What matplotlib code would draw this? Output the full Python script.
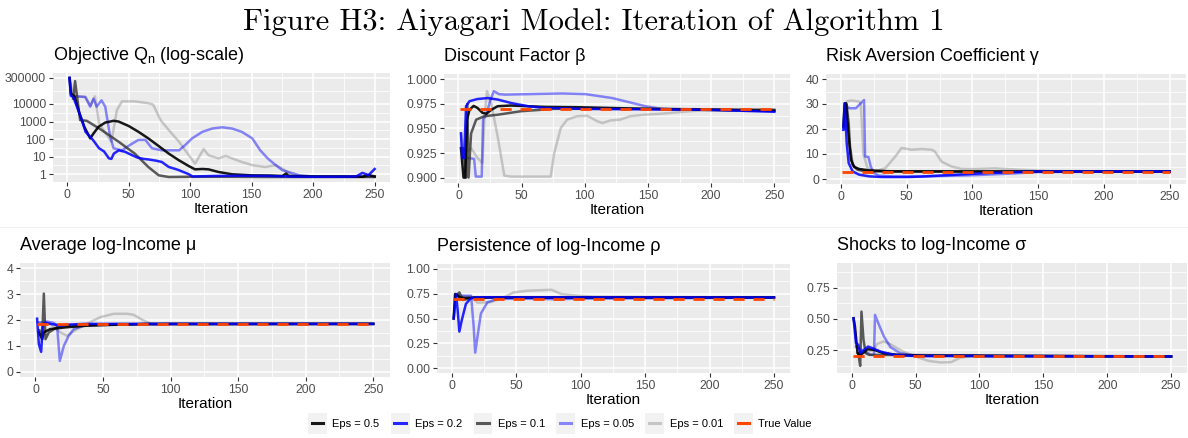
import matplotlib
matplotlib.use('Agg')
import matplotlib.pyplot as plt
from matplotlib.legend_handler import HandlerLine2D
from matplotlib.patches import Rectangle
from matplotlib.lines import Line2D
from matplotlib.ticker import FixedLocator, NullFormatter
import numpy as np

plt.rcParams['font.family'] = ['Liberation Sans', 'DejaVu Sans']

# ---- data (iteration, value) ----
eps_labels = ['Eps = 0.5', 'Eps = 0.2', 'Eps = 0.1', 'Eps = 0.05', 'Eps = 0.01']

# Objective Q_n
q05_x = [2, 3, 6, 10, 14, 18.8, 21.5, 25.5, 31, 37.8, 41.8, 50, 58, 66, 74.5, 82.6, 90.8, 99, 104, 110, 115, 123, 134, 150, 165, 175, 178, 180, 200, 225, 240, 245, 250]
q05_y = [3e5, 4e4, 2.7e4, 3e3, 500, 110, 210, 500, 870, 1100, 1000, 560, 260, 110, 40, 15, 6.3, 2.9, 1.9, 2.0, 1.9, 1.35, 1.0, 0.87, 0.85, 0.8, 1.1, 0.8, 0.75, 0.75, 0.72, 0.9, 0.75]
q02_x = [2, 3, 5, 8, 12, 15, 17.4, 21, 26, 30, 34, 36, 38, 42, 47, 53, 57, 62, 66, 72, 77, 82.6, 88, 91, 99, 102, 120, 140, 160, 180, 200, 220, 235, 240, 245, 250]
q02_y = [3e5, 3e4, 2.5e4, 7000, 1200, 260, 170, 90, 30, 20, 8, 7.5, 15, 23, 19, 12, 9, 7.5, 7, 6, 5, 2.6, 2.0, 1.7, 1.0, 0.75, 0.8, 0.82, 0.8, 0.75, 0.72, 0.72, 0.75, 1.2, 0.9, 2.0]
q01_x = [5, 6.5, 8, 10.6, 16, 28, 42, 55, 66, 74.5, 82.6, 100, 130, 160, 200, 250]
q01_y = [2e4, 2e5, 3e4, 1200, 1100, 330, 70, 15, 2.6, 0.87, 0.7, 0.72, 0.72, 0.7, 0.7, 0.7]
q005_x = [2, 3.8, 14.7, 18.8, 21.5, 24, 28, 31, 35, 37.8, 44.6, 51, 58, 63.6, 69, 77, 91, 96, 101.6, 110, 118, 126, 134, 142, 150.5, 157, 163, 169.6, 175, 189, 200, 230, 250]
q005_y = [3e5, 2.7e4, 2.5e4, 7000, 2e4, 7000, 1.6e4, 7000, 140, 30, 23, 46, 90, 90, 30, 23, 23, 46, 110, 260, 400, 470, 400, 260, 110, 23, 8, 3.3, 1.7, 0.87, 0.75, 0.72, 0.75]
q001_x = [2, 5, 15, 19, 22.6, 24, 26, 30, 36, 40.5, 44.6, 55, 66, 70, 76, 82.6, 91, 99, 104, 108, 111, 115, 123, 129, 134, 142, 150.5, 161, 169.6, 175, 183, 200, 250]
q001_y = [3e5, 3e4, 2.5e4, 8000, 2.7e4, 7000, 800, 300, 70, 4500, 1.4e4, 1.4e4, 1.1e4, 9000, 1200, 330, 70, 12, 4, 12, 27, 12, 8, 11, 8, 5, 3.3, 2.6, 3.3, 2.1, 0.87, 0.75, 0.72]

# Discount factor beta
b05_x = [2, 4, 5.3, 6.8, 8.7, 12, 15, 19, 22, 26, 31, 41.6, 68, 94, 150, 200, 250]
b05_y = [0.93, 0.90, 0.90, 0.959, 0.969, 0.973, 0.971, 0.966, 0.965, 0.969, 0.9727, 0.9734, 0.972, 0.9717, 0.970, 0.969, 0.968]
b02_x = [2, 3, 4.5, 6, 8.7, 15, 23, 31, 41.6, 55, 68, 100, 150, 200, 250]
b02_y = [0.945, 0.92, 0.92, 0.9727, 0.9778, 0.980, 0.981, 0.9795, 0.976, 0.9727, 0.971, 0.970, 0.9695, 0.969, 0.967]
b01_x = [4, 6, 7, 8, 10, 14, 20.5, 31, 49.5, 75.8, 150, 250]
b01_y = [0.93, 0.90, 0.975, 0.90, 0.945, 0.959, 0.9625, 0.964, 0.9676, 0.970, 0.970, 0.969]
b005_x = [3, 12.4, 13.7, 18.4, 19.5, 22, 25, 28, 32, 37, 56, 82, 100.6, 121.7, 148, 161, 200, 250]
b005_y = [0.921, 0.919, 0.901, 0.901, 0.960, 0.963, 0.978, 0.988, 0.985, 0.9845, 0.985, 0.9857, 0.985, 0.981, 0.9727, 0.970, 0.969, 0.968]
b001_x = [2, 5, 10, 15, 19, 20.5, 22.6, 26, 31, 36.3, 41.6, 73, 75.8, 81, 86, 94, 102, 110, 114, 120.5, 128, 136, 147, 160, 187, 250]
b001_y = [0.945, 0.925, 0.93, 0.92, 0.915, 0.959, 0.988, 0.975, 0.942, 0.902, 0.901, 0.901, 0.925, 0.9505, 0.959, 0.9625, 0.963, 0.9573, 0.9556, 0.9583, 0.959, 0.9625, 0.964, 0.965, 0.968, 0.969]

# Risk aversion gamma
g05_x = [1.75, 2.8, 3.8, 5.8, 7.5, 10, 13.8, 21.3, 38.8, 100, 250]
g05_y = [21, 30.3, 30.3, 17, 7.7, 4.8, 4.0, 3.45, 3.05, 3.0, 3.0]
g02_x = [1.75, 2.8, 4.3, 5.8, 8.8, 13.8, 21.3, 31, 51, 62, 80, 112, 150, 250]
g02_y = [19.7, 30.3, 14.4, 6.4, 3.05, 1.73, 1.06, 0.8, 0.8, 1.0, 1.5, 2.4, 3.0, 3.0]
g01_x = [4.3, 5.8, 6.8, 8.8, 12.5, 18.8, 250]
g01_y = [29.6, 22.3, 13, 5.7, 3.7, 3.05, 3.0]
g005_x = [3, 4.3, 6.3, 11.3, 15, 17.5, 18.3, 20.8, 22.6, 25, 28.8, 40, 60, 100, 130, 150, 250]
g005_y = [20, 29, 28.3, 28.3, 30.3, 31.6, 9, 8.8, 5, 2.4, 1.33, 1.0, 1.0, 1.5, 2.2, 2.8, 3.0]
g001_x = [3, 4.3, 7.5, 13.8, 15, 17, 20, 26, 33.8, 41.3, 46, 53.8, 61.4, 69, 71.4, 76.4, 84, 91.5, 100, 117, 132, 160, 250]
g001_y = [20, 31, 31.4, 31, 30, 10, 4.5, 3, 4.4, 9, 12.4, 11.7, 12, 11.7, 11, 7, 5, 4.1, 4.0, 4.3, 3.8, 3.2, 3.0]

# Average log-income mu
m05_x = [2.5, 5, 6, 11, 23, 38, 60, 85, 250]
m05_y = [1.52, 1.26, 1.52, 1.65, 1.72, 1.78, 1.82, 1.85, 1.85]
m02_x = [1.2, 2.5, 4.2, 5.4, 7.4, 11, 16, 18.5, 23.4, 36, 250]
m02_y = [2.05, 1.07, 0.77, 1.78, 1.9, 1.85, 1.81, 1.78, 1.82, 1.85, 1.85]
m01_x = [3, 5, 6.2, 7.4, 9.9, 16, 23.4, 36, 60, 250]
m01_y = [1.6, 1.4, 3.02, 1.26, 1.52, 1.72, 1.78, 1.82, 1.84, 1.85]
m005_x = [2.5, 8.6, 13.5, 16, 18, 21, 24.6, 28.3, 35.7, 48, 72.7, 97, 250]
m005_y = [1.9, 1.94, 1.89, 1.78, 0.42, 1.0, 1.39, 1.65, 1.78, 1.81, 1.82, 1.84, 1.85]
m001_x = [2.5, 11, 18.5, 23.4, 30.8, 38, 48, 58, 68, 72.7, 80, 87.4, 100, 250]
m001_y = [1.9, 1.85, 1.52, 1.39, 1.65, 1.85, 2.11, 2.24, 2.24, 2.2, 1.98, 1.82, 1.85, 1.85]

# Persistence rho
r05_x = [1.5, 2.6, 4, 6, 9.8, 30, 250]
r05_y = [0.5, 0.747, 0.74, 0.714, 0.707, 0.712, 0.713]
r02_x = [1.5, 3.3, 4.6, 5.9, 7.7, 11, 15, 20, 250]
r02_y = [0.5, 0.747, 0.58, 0.368, 0.48, 0.648, 0.707, 0.714, 0.712]
r01_x = [3.3, 5.9, 8.5, 12.3, 17.5, 250]
r01_y = [0.73, 0.763, 0.687, 0.697, 0.714, 0.71]
r005_x = [3.3, 15, 17, 18.2, 20, 22.6, 27.7, 35.4, 53, 80, 100, 250]
r005_y = [0.73, 0.73, 0.418, 0.155, 0.32, 0.55, 0.664, 0.697, 0.7, 0.695, 0.7, 0.71]
r001_x = [3.3, 15, 20, 30, 40.5, 48, 58.5, 77.5, 85, 98, 111, 250]
r001_y = [0.73, 0.72, 0.66, 0.664, 0.714, 0.763, 0.78, 0.79, 0.747, 0.73, 0.72, 0.71]

# Shocks sigma
s05_x = [1.5, 2.6, 4.6, 7.2, 12.4, 17.5, 25, 35.6, 60, 250]
s05_y = [0.505, 0.439, 0.226, 0.213, 0.258, 0.253, 0.226, 0.213, 0.205, 0.2]
s02_x = [1.5, 3.4, 5.2, 6.7, 9.8, 12.9, 16.3, 22.7, 33, 46, 250]
s02_y = [0.505, 0.306, 0.293, 0.226, 0.253, 0.279, 0.266, 0.239, 0.213, 0.205, 0.2]
s01_x = [5.2, 6.7, 7.7, 9.3, 11, 13.7, 250]
s01_y = [0.226, 0.125, 0.558, 0.332, 0.226, 0.213, 0.2]
s005_x = [3.4, 15, 17.5, 18.3, 21.4, 25.3, 30.4, 38, 53.7, 85, 95, 105, 250]
s005_y = [0.279, 0.213, 0.213, 0.532, 0.452, 0.359, 0.274, 0.226, 0.2, 0.21, 0.21, 0.2, 0.2]
s001_x = [5, 17, 20, 25, 30, 40, 50, 60, 70, 78, 85, 95, 250]
s001_y = [0.22, 0.25, 0.3, 0.32, 0.30, 0.24, 0.2, 0.165, 0.152, 0.155, 0.19, 0.205, 0.2]

true_x = [1, 250]
true_beta = 0.97
true_gamma = 3.0
true_mu = 1.85
true_rho = 0.70
true_sigma = 0.20

# ---- styling ----
colors = ['#000000', '#0000FF', '#333333', '#0000FF', '#999999']
alphas = [0.9, 0.85, 0.8, 0.45, 0.5]
true_col = '#FF4500'
LW = 1.8

W, H = 1188, 438
fig = plt.figure(figsize=(W / 100, H / 100), dpi=100)


def add_ax(l, r, t, b):
    return fig.add_axes([l / W, 1 - b / H, (r - l) / W, (b - t) / H])


def style(ax, title, ylim, yticks, ylabels, yminor):
    ax.set_facecolor('#EBEBEB')
    for s in ax.spines.values():
        s.set_visible(False)
    ax.set_xlim(-11.45, 262.45)
    ax.set_ylim(*ylim)
    ax.set_xticks([0, 50, 100, 150, 200, 250])
    ax.xaxis.set_minor_locator(FixedLocator([25, 75, 125, 175, 225]))
    ax.set_yticks(yticks)
    ax.set_yticklabels(ylabels)
    ax.yaxis.set_minor_locator(FixedLocator(yminor))
    ax.yaxis.set_minor_formatter(NullFormatter())
    ax.grid(which='major', color='white', lw=1.1)
    ax.grid(which='minor', color='white', lw=0.55)
    ax.set_axisbelow(True)
    ax.tick_params(which='major', length=3, width=0.8, color='#333333',
                   labelcolor='#4D4D4D', labelsize=8.8, pad=2)
    ax.tick_params(which='minor', length=0)
    ax.set_xlabel('Iteration', fontsize=11, labelpad=1)
    ax.set_title(title, loc='left', fontsize=13, pad=9.5)


def draw(ax, series, true_val=None):
    for i in [4, 3, 2, 0, 1]:
        xs, ys = series[i]
        ax.plot(xs, ys, color=colors[i], alpha=alphas[i], lw=LW, solid_joinstyle='round')
    if true_val is not None:
        ax.plot(true_x, [true_val, true_val], color=true_col, lw=2.0, dashes=(4, 3.2))


# Objective
ax1 = add_ax(53, 390, 73, 182)
ax1.set_yscale('log')
draw(ax1, [(q05_x, q05_y), (q02_x, q02_y), (q01_x, q01_y), (q005_x, q005_y), (q001_x, q001_y)])
style(ax1, 'Objective Q$_{\\mathregular{n}}$ (log-scale)', (10 ** -0.44, 10 ** 5.76),
      [1, 10, 100, 1000, 10000, 300000], ['1', '10', '100', '1000', '10000', '300000'],
      [10 ** 0.5, 10 ** 1.5, 10 ** 2.5, 10 ** 3.5, 10 ** ((4 + np.log10(3e5)) / 2)])

# Beta
ax2 = add_ax(444, 790, 74, 183)
draw(ax2, [(b05_x, b05_y), (b02_x, b02_y), (b01_x, b01_y), (b005_x, b005_y), (b001_x, b001_y)], true_beta)
bt = [0.9, 0.925, 0.95, 0.975, 1.0]
style(ax2, 'Discount Factor β', (0.8945, 1.0055), bt, ['%.3f' % v for v in bt],
      [0.9125, 0.9375, 0.9625, 0.9875])

# Gamma
ax3 = add_ax(826, 1186, 74, 184)
draw(ax3, [(g05_x, g05_y), (g02_x, g02_y), (g01_x, g01_y), (g005_x, g005_y), (g001_x, g001_y)], true_gamma)
gt = [0, 10, 20, 30, 40]
style(ax3, 'Risk Aversion Coefficient γ', (-2, 42), gt, [str(v) for v in gt], [5, 15, 25, 35])

# Mu
ax4 = add_ax(20, 390, 263, 377)
draw(ax4, [(m05_x, m05_y), (m02_x, m02_y), (m01_x, m01_y), (m005_x, m005_y), (m001_x, m001_y)], true_mu)
mt = [0, 1, 2, 3, 4]
style(ax4, 'Average log-Income μ', (-0.2, 4.2), mt, [str(v) for v in mt], [0.5, 1.5, 2.5, 3.5])

# Rho
ax5 = add_ax(437, 790, 264, 373)
draw(ax5, [(r05_x, r05_y), (r02_x, r02_y), (r01_x, r01_y), (r005_x, r005_y), (r001_x, r001_y)], true_rho)
rt = [0, 0.25, 0.5, 0.75, 1.0]
style(ax5, 'Persistence of log-Income ρ', (-0.05, 1.05), rt, ['%.2f' % v for v in rt],
      [0.125, 0.375, 0.625, 0.875])

# Sigma
ax6 = add_ax(837, 1187, 263, 373)
draw(ax6, [(s05_x, s05_y), (s02_x, s02_y), (s01_x, s01_y), (s005_x, s005_y), (s001_x, s001_y)], true_sigma)
st = [0.25, 0.5, 0.75]
style(ax6, 'Shocks to log-Income σ', (0.068, 0.946), st, ['%.2f' % v for v in st],
      [0.125, 0.375, 0.625, 0.875])

fig.add_artist(Line2D([0, 1], [1 - 227 / H] * 2, color='#F0F0F0', lw=0.8,
                      transform=fig.transFigure))

fig.text(0.5, 1 - 22 / H, 'Figure H3: Aiyagari Model: Iteration of Algorithm 1',
         ha='center', va='center', fontsize=22, family='cmr10')


# legend with grey key boxes like ggplot
class KeyHandler(HandlerLine2D):
    def create_artists(self, legend, orig_handle, xdescent, ydescent, width, height,
                       fontsize, trans):
        y0 = height / 2 - ydescent
        rect = Rectangle((-xdescent, y0 - 0.95 * fontsize), width, 1.9 * fontsize,
                         facecolor='#F2F2F2', edgecolor='none', transform=trans)
        ln = Line2D([-xdescent + 0.2 * width, -xdescent + 0.8 * width], [y0, y0],
                    color=orig_handle.get_color(), alpha=orig_handle.get_alpha(),
                    lw=orig_handle.get_linewidth(), transform=trans)
        return [rect, ln]


handles = [Line2D([], [], color=colors[i], alpha=alphas[i], lw=2.2) for i in range(5)]
handles.append(Line2D([], [], color=true_col, lw=2.2))
labels = eps_labels + ['True Value']
fig.legend(handles, labels, loc='center', bbox_to_anchor=(560 / W, 1 - 424 / H), ncol=6,
           frameon=False, fontsize=8, handlelength=1.7, handletextpad=0.5,
           columnspacing=1.0, handler_map={Line2D: KeyHandler()})

fig.savefig('out.png', dpi=100)
